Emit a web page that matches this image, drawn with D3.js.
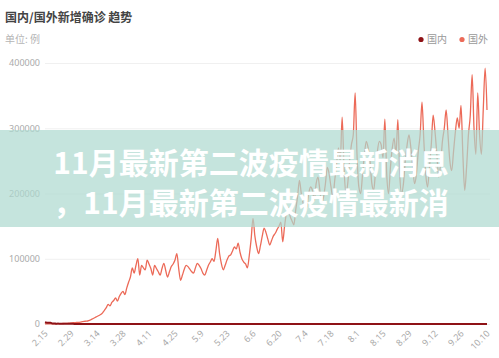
<!DOCTYPE html>
<html><head><meta charset="utf-8">
<script src="https://cdn.jsdelivr.net/npm/d3@7/dist/d3.min.js"></script>
<style>
html,body{margin:0;padding:0;background:#fff;}
svg{display:block;font-family:"Noto Sans CJK SC","Noto Sans",sans-serif;}
</style></head>
<body>
<svg id="chart" width="499" height="358"></svg>
<script>
const title = "国内/国外新增确诊 趋势";
const unitText = "单位: 例";
const seriesNames = ["国内", "国外"];
const xTickLabels = ["2.15","2.29","3.14","3.28","4.11","4.25","5.9","5.23","6.6","6.20","7.4","7.18","8.1","8.15","8.29","9.12","9.26","10.10"];
const yTicks = [0, 100000, 200000, 300000, 400000];
const overlayLines = ["11月最新第二波疫情最新消息", "，11月最新第二波疫情最新消"];

const domestic = [
2641,2009,2048,1886,820,889,397,
648,409,508,406,433,327,427,
573,202,125,119,139,143,99,
44,40,19,24,15,8,11,
20,16,21,13,34,39,41,
46,39,78,47,67,55,54,
45,31,48,36,35,31,19,
30,39,32,62,63,42,46,
99,108,89,46,46,26,27,
16,12,11,30,10,10,6,
11,3,6,22,4,3,12,
2,3,1,2,4,2,1,
14,5,17,7,3,4,8,
5,7,6,5,2,4,0,
3,11,7,5,2,4,5,
2,16,5,6,4,7,5,
5,4,3,3,3,2,11,
57,49,40,44,28,31,32,
26,25,22,29,19,13,21,
17,12,19,7,3,5,5,
6,8,5,5,11,3,7,
8,7,8,6,11,13,22,
16,22,11,14,22,21,34,
46,61,68,64,101,105,127,
91,49,43,36,27,37,32,
23,49,44,22,19,25,33,
22,19,22,17,22,30,22,
20,17,16,12,15,9,9,
12,20,10,9,11,14,10,
10,12,10,17,7,8,10,
12,10,7,10,14,32,14,
15,14,13,6,7,12,7,
21,14,8,16,10,15,9,
20,6,13,9,17,7,21,
15];

const foreign = [
120,150,180,160,200,260,350,
500,650,700,800,900,1100,1400,
1700,1900,2100,2300,2600,3000,3500,
4000,4300,4600,5500,7000,8500,10000,
11500,13000,14500,17000,21000,25000,30000,
28000,33000,36000,40000,35000,42000,47000,
50000,45000,55000,64000,72000,86000,78000,
90000,100000,75000,90000,86000,83000,98000,
92000,85000,75000,90000,85000,80000,75000,
85000,93000,82000,72000,80000,88000,92000,
98000,108000,85000,67000,75000,84000,90000,
88000,84000,80000,78000,86000,93000,90000,
85000,78000,75000,82000,90000,95000,100000,
96000,112000,131000,108000,92000,83000,90000,
98000,104000,106000,112000,118000,115000,124000,
110000,100000,95000,92000,86000,105000,130000,
162000,135000,118000,108000,120000,135000,147000,
140000,130000,121000,128000,135000,139000,145000,
150000,156000,126000,150000,170000,178000,165000,
158000,152000,175000,195000,220000,200000,185000,
175000,180000,200000,210000,205000,190000,215000,
225000,205000,185000,195000,215000,240000,230000,
210000,195000,220000,245000,270000,250000,317000,
240000,200000,215000,250000,275000,290000,354000,
260000,210000,200000,230000,260000,280000,270000,
250000,215000,205000,235000,265000,280000,275000,
255000,314000,230000,200000,240000,270000,285000,
260000,313000,230000,200000,215000,250000,275000,
290000,270000,240000,215000,230000,265000,290000,
340000,280000,230000,210000,240000,275000,320000,
295000,260000,225000,245000,280000,300000,328000,
290000,250000,235000,265000,295000,316000,300000,
335000,260000,205000,240000,290000,320000,382000,
300000,260000,354000,290000,260000,330000,392000,
328000];

const colors = {domestic: "#8e1216", foreign: "#ec6a58"};

const svg = d3.select("#chart");
const W = 499, H = 358;
const m = {left: 45, right: 12, top: 63, bottom: 34};

const n = foreign.length;
const x = d3.scaleLinear().domain([0, n - 1]).range([m.left, W - m.right]);
const y = d3.scaleLinear().domain([0, 400000]).range([H - m.bottom, m.top]);

// title
svg.append("text").attr("x", 5).attr("y", 22).attr("font-size", 12).attr("font-weight", "bold")
  .attr("fill", "#444").text(title);
svg.append("text").attr("x", 5).attr("y", 43).attr("font-size", 10).attr("fill", "#b5b5b5").text(unitText);

// legend
const legend = svg.append("g");
const legendItems = [{name: seriesNames[0], c: colors.domestic, x: 421}, {name: seriesNames[1], c: colors.foreign, x: 462}];
legendItems.forEach(d => {
  legend.append("circle").attr("cx", d.x).attr("cy", 39.5).attr("r", 2.6).attr("fill", d.c);
  legend.append("text").attr("x", d.x + 6).attr("y", 43).attr("font-size", 10).attr("fill", "#999").text(d.name);
});

// y axis / grid
const yAxis = d3.axisLeft(y).tickValues(yTicks).tickSize(-(W - m.right + 3 - m.left)).tickPadding(5).tickFormat(d3.format("d"));
const ga = svg.append("g").attr("transform", `translate(${m.left},0)`).call(yAxis);
ga.select(".domain").remove();
ga.selectAll(".tick line").attr("stroke", "#f0f0f0").attr("stroke-width", 1);
ga.selectAll(".tick text").attr("fill", "#aaa").attr("font-size", 9).attr("font-family", "\"Noto Sans\",sans-serif");

// x axis labels
const tickIdx = xTickLabels.map((d, i) => i * 14);
const xAxis = d3.axisBottom(x).tickValues(tickIdx).tickSize(0).tickFormat((d, i) => xTickLabels[i]);
const gx = svg.append("g").attr("transform", `translate(0,${H - m.bottom})`).call(xAxis);
gx.select(".domain").remove();
gx.selectAll(".tick text").attr("fill", "#aaa").attr("font-size", 9)
  .attr("font-family", "\"Noto Sans\",sans-serif")
  .attr("text-anchor", "end").attr("dy", null).attr("y", 0)
  .attr("transform", "translate(3,10) rotate(-45)");

// lines
const line = d3.line().x((d, i) => x(i)).y(d => y(d)).curve(d3.curveMonotoneX);
svg.append("path").datum(foreign).attr("d", line).attr("fill", "none")
  .attr("stroke", colors.foreign).attr("stroke-width", 1.3);
svg.append("path").datum(domestic).attr("d", line).attr("fill", "none")
  .attr("stroke", colors.domestic).attr("stroke-width", 2);

// overlay band
svg.append("rect").attr("x", 0).attr("y", 130).attr("width", W).attr("height", 97)
  .attr("fill", "#acd8cf").attr("opacity", 0.7);
const ot = svg.append("g");
overlayLines.forEach((t, i) => {
  ot.append("text").attr("x", 251).attr("y", 174 + i * 40).attr("text-anchor", "middle")
    .attr("font-size", 30).attr("font-weight", "bold").attr("fill", "#fff")
    .attr("font-family", "\"Noto Sans CJK SC\",sans-serif").text(t);
});
</script>
</body></html>
